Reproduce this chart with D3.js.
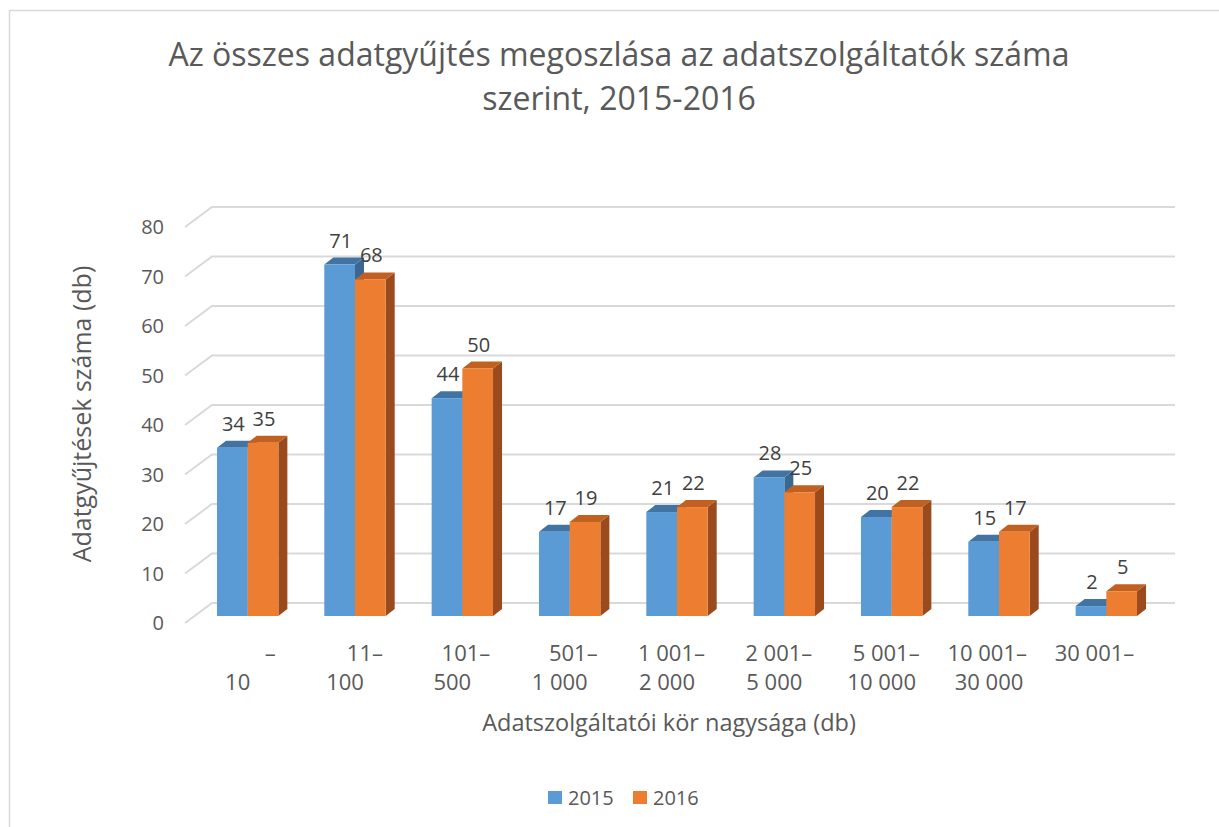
<!DOCTYPE html>
<html>
<head>
<meta charset="utf-8">
<script src="https://cdn.jsdelivr.net/npm/d3@7"></script>
<style>
  body { margin: 0; background: #fff; }
  text { font-family: 'Open Sans', 'Noto Sans', sans-serif; }
</style>
</head>
<body>
<script>
// data
var categories = ['1', '2', '3', '4', '5', '6', '7', '8', '9'];
var labelLine1 = ['–', '11–', '101–', '501–', '1 001–', '2 001–', '5 001–', '10 001–', '30 001–'];
var labelLine2 = ['10', '100', '500', '1 000', '2 000', '5 000', '10 000', '30 000', ''];
var seriesNames = ['2015', '2016'];
var values2015 = [34, 71, 44, 17, 21, 28, 20, 15, 2];
var values2016 = [35, 68, 50, 19, 22, 25, 22, 17, 5];
var yTicks = [0, 10, 20, 30, 40, 50, 60, 70, 80];

var options = {
  width: 1219,
  height: 827,
  colors: {
    front: ['#5b9bd5', '#ed7d31'],
    top: ['#4274a3', '#c2611f'],
    side: ['#3a6892', '#9a4a1c']
  }
};

var svg = d3.select('body')
  .append('svg')
  .attr('width', options.width)
  .attr('height', options.height);

// chart border
svg.append('rect')
  .attr('x', 9.5).attr('y', 10.5)
  .attr('width', 1400).attr('height', 1000)
  .attr('fill', '#fff')
  .attr('stroke', '#d9d9d9')
  .attr('stroke-width', 1.5);

// scales
var yFront = d3.scaleLinear().domain([0, 80]).range([623, 227]);
var wallDx = 27, wallDy = -20;   // floor front -> back wall
var barDy = -7;                  // floor front -> bar base
var depthX = 9, depthY = -7;     // bar thickness

var x0 = d3.scaleBand()
  .domain(categories)
  .range([194, 1160])
  .paddingInner(0.428)
  .paddingOuter(0.214);

var x1 = d3.scaleBand()
  .domain(seriesNames)
  .range([0, x0.bandwidth()]);

// gridlines (floor diagonal + back wall)
var grid = svg.append('g');
yTicks.forEach(function(t) {
  var y = yFront(t);
  grid.append('path')
    .attr('d', 'M185,' + y + 'L' + (185 + wallDx) + ',' + (y + wallDy) + 'L1175,' + (y + wallDy))
    .attr('fill', 'none')
    .attr('stroke', '#d9d9d9')
    .attr('stroke-width', 2);
});

// y axis tick labels
svg.append('g').selectAll('text')
  .data(yTicks)
  .enter()
  .append('text')
  .attr('x', 164)
  .attr('y', function(d) { return yFront(d) + 7; })
  .attr('text-anchor', 'end')
  .attr('font-size', 20)
  .attr('fill', '#595959')
  .text(function(d) { return d; });

// bars
var rows = categories.map(function(c, i) {
  return { cat: c, vals: [values2015[i], values2016[i]] };
});

var bars = svg.append('g');
rows.forEach(function(row) {
  row.vals.forEach(function(v, s) {
    var left = x0(row.cat) + x1(seriesNames[s]);
    var right = left + x1.bandwidth();
    var base = yFront(0) + barDy;
    var top = yFront(v) + barDy;
    var g = bars.append('g');
    // side
    g.append('path')
      .attr('d', 'M' + right + ',' + base + 'L' + (right + depthX) + ',' + (base + depthY) +
                 'L' + (right + depthX) + ',' + (top + depthY) + 'L' + right + ',' + top + 'Z')
      .attr('fill', options.colors.side[s]);
    // top
    g.append('path')
      .attr('d', 'M' + left + ',' + top + 'L' + (left + depthX) + ',' + (top + depthY) +
                 'L' + (right + depthX) + ',' + (top + depthY) + 'L' + right + ',' + top + 'Z')
      .attr('fill', options.colors.top[s]);
    // front
    g.append('rect')
      .attr('x', left)
      .attr('y', top)
      .attr('width', x1.bandwidth())
      .attr('height', base - top)
      .attr('fill', options.colors.front[s]);
  });
});

// data labels
rows.forEach(function(row) {
  row.vals.forEach(function(v, s) {
    svg.append('text')
      .attr('x', x0(row.cat) + x1(seriesNames[s]) + x1.bandwidth() / 2 + 1)
      .attr('y', yFront(v) + barDy - 17)
      .attr('text-anchor', 'middle')
      .attr('font-size', 20)
      .attr('fill', '#404040')
      .text(v);
  });
});

// category labels (two lines)
var catLabels = svg.append('g');
categories.forEach(function(c, i) {
  var cx = x0(c) + x0.bandwidth() / 2;
  catLabels.append('text')
    .attr('x', cx + 28)
    .attr('y', 661)
    .attr('text-anchor', 'end')
    .attr('font-size', 22)
    .attr('fill', '#595959')
    .text(labelLine1[i]);
  catLabels.append('text')
    .attr('x', cx - 10)
    .attr('y', 690)
    .attr('text-anchor', 'middle')
    .attr('font-size', 22)
    .attr('fill', '#595959')
    .text(labelLine2[i]);
});

// titles
svg.append('text')
  .attr('x', 619).attr('y', 66)
  .attr('text-anchor', 'middle')
  .attr('font-size', 32)
  .attr('fill', '#595959')
  .text('Az összes adatgyűjtés megoszlása az adatszolgáltatók száma');
svg.append('text')
  .attr('x', 619).attr('y', 110)
  .attr('text-anchor', 'middle')
  .attr('font-size', 32)
  .attr('fill', '#595959')
  .text('szerint, 2015-2016');

svg.append('text')
  .attr('x', 669).attr('y', 731)
  .attr('text-anchor', 'middle')
  .attr('font-size', 23.5)
  .attr('fill', '#595959')
  .text('Adatszolgáltatói kör nagysága (db)');

svg.append('text')
  .attr('transform', 'translate(91,414) rotate(-90)')
  .attr('text-anchor', 'middle')
  .attr('font-size', 25)
  .attr('fill', '#595959')
  .text('Adatgyűjtések száma (db)');

// legend
var legendX = [548, 633];
var legend = svg.append('g');
seriesNames.forEach(function(name, s) {
  legend.append('rect')
    .attr('x', legendX[s]).attr('y', 791)
    .attr('width', 14).attr('height', 13)
    .attr('fill', options.colors.front[s]);
  legend.append('text')
    .attr('x', legendX[s] + 20).attr('y', 805)
    .attr('font-size', 20)
    .attr('fill', '#595959')
    .text(name);
});
</script>
</body>
</html>
